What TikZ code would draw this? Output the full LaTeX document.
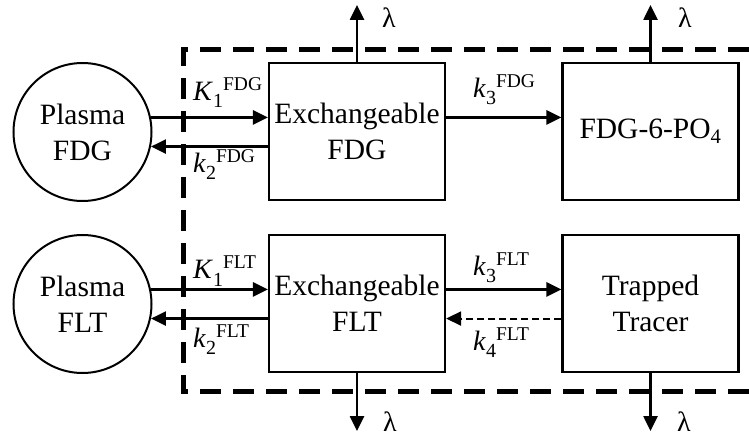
\documentclass[tikz,border=0pt]{standalone}
\usepackage{fontspec}
\setmainfont{LiberationSerif}[Extension=.ttf, UprightFont=*-Regular, ItalicFont=*-Italic, BoldFont=*-Bold, BoldItalicFont=*-BoldItalic]
\usetikzlibrary{arrows.meta}
\newcommand\ratelbl[3]{\fontsize{28}{28}\selectfont\textit{#1}\raisebox{-7pt}{\fontsize{20}{20}\selectfont #2}\raisebox{10pt}{\fontsize{19.5}{20}\selectfont #3}}
\begin{document}
\begin{tikzpicture}[x=1pt,y=-1pt,
  box/.style={draw,line width=2.2pt,minimum width=176pt,minimum height=137pt,inner sep=0pt,align=center,font=\fontsize{29.5}{36}\selectfont},
  pool/.style={draw,circle,line width=2pt,minimum size=138pt,inner sep=0pt,align=center,font=\fontsize{29.5}{36}\selectfont},
  flow/.style={line width=2.6pt,-{Triangle[length=15pt,width=14pt]}},
  backflow/.style={line width=2pt,dash pattern=on 7pt off 4pt,-{Triangle[length=15pt,width=14pt]}},
  lbl/.style={anchor=base west,inner sep=0pt},
  lam/.style={anchor=base west,inner sep=0pt,font=\fontsize{28}{28}\selectfont},
  region/.style={line width=5pt,dash pattern=on 21pt off 12pt}]
\useasboundingbox (0,0) rectangle (749,438);

% compartment boundary
\draw[region] (749,50) -- (183,50) -- (183,391) -- (749,391);

% nodes
\node[pool] (pf) at (82.5,132) {Plasma\\FDG};
\node[box] (ef) at (357,131.5) {Exchangeable\\FDG};
\node[box] (po) at (650.5,131.5) {FDG-6-PO\textsubscript{4}};
\node[pool] (pl) at (82.5,304) {Plasma\\FLT};
\node[box] (el) at (357,303.5) {Exchangeable\\FLT};
\node[box] (tt) at (650.5,303.5) {Trapped\\Tracer};

\coordinate (top) at (0,5);
\coordinate (bot) at (0,431);

% FDG row
\draw[flow] (pf.12) -- (pf.12 -| ef.west);
\draw[flow] (pf.-12 -| ef.west) -- (pf.-12);
\draw[flow] (ef.east |- pf.12) -- (po.west |- pf.12);
\draw[flow] (ef.north) -- (ef.north |- top);
\draw[flow] (po.north) -- (po.north |- top);

% FLT row
\draw[flow] (pl.12) -- (pl.12 -| el.west);
\draw[flow] (pl.-12 -| el.west) -- (pl.-12);
\draw[flow] (el.east |- pl.12) -- (tt.west |- pl.12);
\draw[backflow] (tt.west |- pl.-12) -- (el.east |- pl.-12);
\draw[flow] (el.south) -- (el.south |- bot);
\draw[flow] (tt.south) -- (tt.south |- bot);

% labels
\node[lbl] (k1a) at (193,101) {\ratelbl{K}{1}{FDG}};
\node[lbl] (k2a) at (193,173) {\ratelbl{k}{2}{FDG}};
\node[lbl] (k3a) at (473,98) {\ratelbl{k}{3}{FDG}};
\node[lbl] (k1b) at (193,279) {\ratelbl{K}{1}{FLT}};
\node[lbl] (k2b) at (193,347) {\ratelbl{k}{2}{FLT}};
\node[lbl] (k3b) at (473,276) {\ratelbl{k}{3}{FLT}};
\node[lbl] (k4b) at (473,350) {\ratelbl{k}{4}{FLT}};

\node[lam] (l1) at (382,28) {λ};
\node[lam] (l2) at (678,28) {λ};
\node[lam] (l3) at (383,431) {λ};
\node[lam] (l4) at (677,431) {λ};
\end{tikzpicture}
\end{document}
